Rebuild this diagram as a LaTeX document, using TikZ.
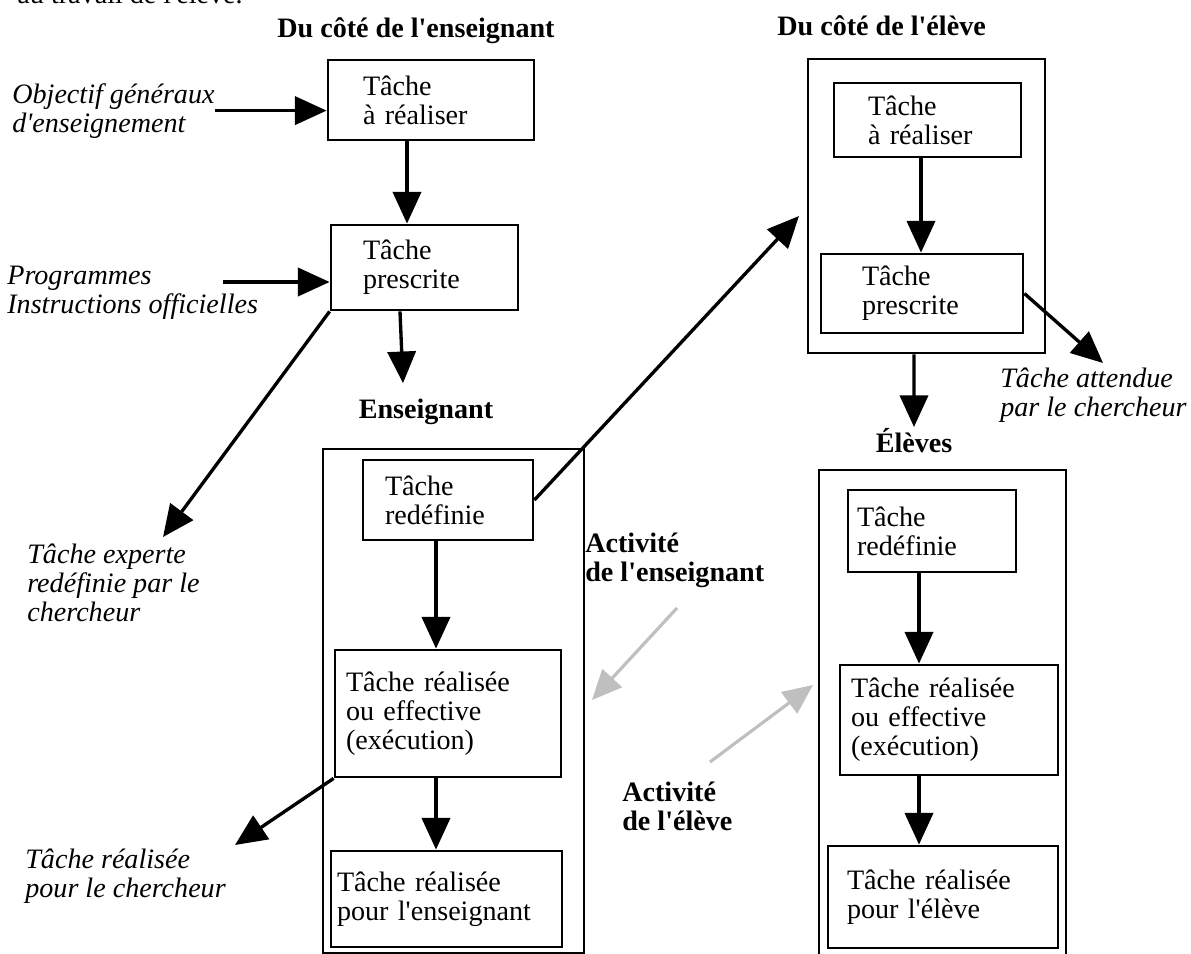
\documentclass[tikz,border=0pt]{standalone}
\usepackage{fontspec}
\setmainfont{Liberation Serif}
\usetikzlibrary{arrows.meta}
\newcommand{\apos}{\textquotesingle}

\tikzset{
  texte/.style={font=\fontsize{16}{16.5}\selectfont},
  tbox/.style={texte, draw, line width=1.6pt, inner sep=0pt, align=left},
  cadre/.style={draw, line width=1.6pt, inner sep=0pt},
  fleche/.style={-{Triangle[length=18pt,width=16pt]}, line width=1.9pt},
  grisfleche/.style={-{Triangle[length=17pt,width=15pt]}, line width=1.8pt, gray!50},
  titre/.style={font=\fontsize{16}{16.5}\selectfont\bfseries, inner sep=0pt, align=left},
  remarque/.style={font=\fontsize{16}{16.5}\selectfont\itshape, inner sep=0pt, align=left}
}

\begin{document}
\begin{tikzpicture}[x=0.02cm, y=-0.02cm]
  \useasboundingbox (0,0) rectangle (1191,954);

  % ligne coupee en haut
  \node[texte, inner sep=0pt, anchor=base east] (haut) at (243,3) {au travail de l\apos élève.};

  % cote enseignant
  \node[titre, anchor=base west] (titreL) at (277,37) {Du côté de l\apos enseignant};
  \node[tbox, minimum width=4.12cm, minimum height=1.6cm, text width=2.72cm] (tacheL) at (431,100) {Tâche\\à réaliser};
  \node[tbox, minimum width=3.74cm, minimum height=1.7cm, text width=2.46cm] (prescL) at (424.5,267.5) {Tâche\\prescrite};
  \node[titre, anchor=base] (enseignant) at (426,418) {Enseignant};
  \node[cadre, minimum width=5.22cm, minimum height=10.08cm] (bigL) at (453.5,701) {};
  \node[tbox, minimum width=3.4cm, minimum height=1.6cm, text width=2.52cm] (redefL) at (448,500) {Tâche\\redéfinie};
  \node[tbox, minimum width=4.52cm, minimum height=2.54cm, text width=4.08cm] (effL) at (448,713.5) {Tâche réalisée\\ou effective\\(exécution)};
  \node[tbox, minimum width=4.62cm, minimum height=1.92cm, text width=4.38cm] (pourensL) at (446.5,899) {Tâche réalisée\\pour l\apos enseignant};

  % remarques a gauche
  \node[remarque, anchor=base west] (objectif) at (12,132) {Objectif généraux\\d\apos enseignement};
  \node[remarque, anchor=base west] (programmes) at (7,313) {Programmes\\Instructions officielles};
  \node[remarque, anchor=base west] (experte) at (27,621) {Tâche experte\\redéfinie par le\\chercheur};
  \node[remarque, anchor=base west] (realCh) at (25,897) {Tâche réalisée\\pour le chercheur};

  % cote eleve
  \node[titre, anchor=base west] (titreR) at (777,35) {Du côté de l\apos élève};
  \node[cadre, minimum width=4.74cm, minimum height=5.88cm] (outerR) at (926.5,206) {};
  \node[tbox, minimum width=3.74cm, minimum height=1.48cm, text width=2.38cm] (tacheR) at (927.5,120) {Tâche\\à réaliser};
  \node[tbox, minimum width=4.04cm, minimum height=1.58cm, text width=2.4cm] (prescR) at (922,293.5) {Tâche\\prescrite};
  \node[remarque, anchor=base west] (attendue) at (1000,416) {Tâche attendue\\par le chercheur};
  \node[titre, anchor=base] (eleves) at (914,452) {Élèves};
  \node[cadre, minimum width=4.94cm, minimum height=9.84cm] (bigR) at (942.5,716) {};
  \node[tbox, minimum width=3.36cm, minimum height=1.64cm, text width=3.0cm] (redefR) at (932,531) {Tâche\\redéfinie};
  \node[tbox, minimum width=4.36cm, minimum height=2.2cm, text width=3.92cm] (effR) at (949,720) {Tâche réalisée\\ou effective\\(exécution)};
  \node[tbox, minimum width=4.6cm, minimum height=2.04cm, text width=3.84cm] (pourelR) at (943,897) {Tâche réalisée\\pour l\apos élève};

  % activites
  \node[titre, anchor=base west] (actEns) at (585,581) {Activité\\de l\apos enseignant};
  \node[titre, anchor=base west] (actEl) at (622,830) {Activité\\de l\apos élève};

  % bouts libres
  \coordinate (progDebut) at (223,282);
  \coordinate (expPointe) at (163,537);
  \coordinate (eleveEntree) at (799,216);
  \coordinate (attPointe) at (1103,363);
  \coordinate (realPointe) at (235,845);
  \coordinate (elevesPointe) at (914,427);
  \coordinate (g1a) at (677,608);
  \coordinate (g1b) at (592,700);
  \coordinate (g2a) at (710,762);
  \coordinate (g2b) at (813,685);

  % fleches
  \draw[fleche] (objectif.east) -- (objectif.east -| tacheL.west);
  \draw[fleche] (progDebut) -- (progDebut -| prescL.west);
  \draw[fleche] ([xshift=-0.48cm]tacheL.south) -- ([xshift=-0.48cm]tacheL.south |- prescL.north);
  \draw[fleche] ([xshift=-0.49cm]prescL.south) -- ([xshift=-0.46cm,yshift=0.3cm]enseignant.north);
  \draw[fleche] (prescL.south west) -- (expPointe);
  \draw[fleche] (redefL.east) -- (eleveEntree);
  \draw[fleche] ([xshift=-0.24cm]redefL.south) -- ([xshift=-0.24cm]redefL.south |- effL.north);
  \draw[fleche] ([xshift=-0.24cm]effL.south) -- ([xshift=-0.24cm]effL.south |- pourensL.north);
  \draw[fleche] (effL.south west) -- (realPointe);

  \draw[fleche] ([xshift=-0.13cm]tacheR.south) -- ([xshift=-0.13cm]tacheR.south |- prescR.north);
  \draw[fleche] (prescR.east) -- (attPointe);
  \draw[fleche] ([xshift=-0.25cm]outerR.south) -- (elevesPointe);
  \draw[fleche] ([xshift=-0.26cm]redefR.south) -- ([xshift=-0.26cm]redefR.south |- effR.north);
  \draw[fleche] ([xshift=-0.6cm]effR.south) -- ([xshift=-0.6cm]effR.south |- pourelR.north);

  \draw[grisfleche] (g1a) -- (g1b);
  \draw[grisfleche] (g2a) -- (g2b);
\end{tikzpicture}
\end{document}
